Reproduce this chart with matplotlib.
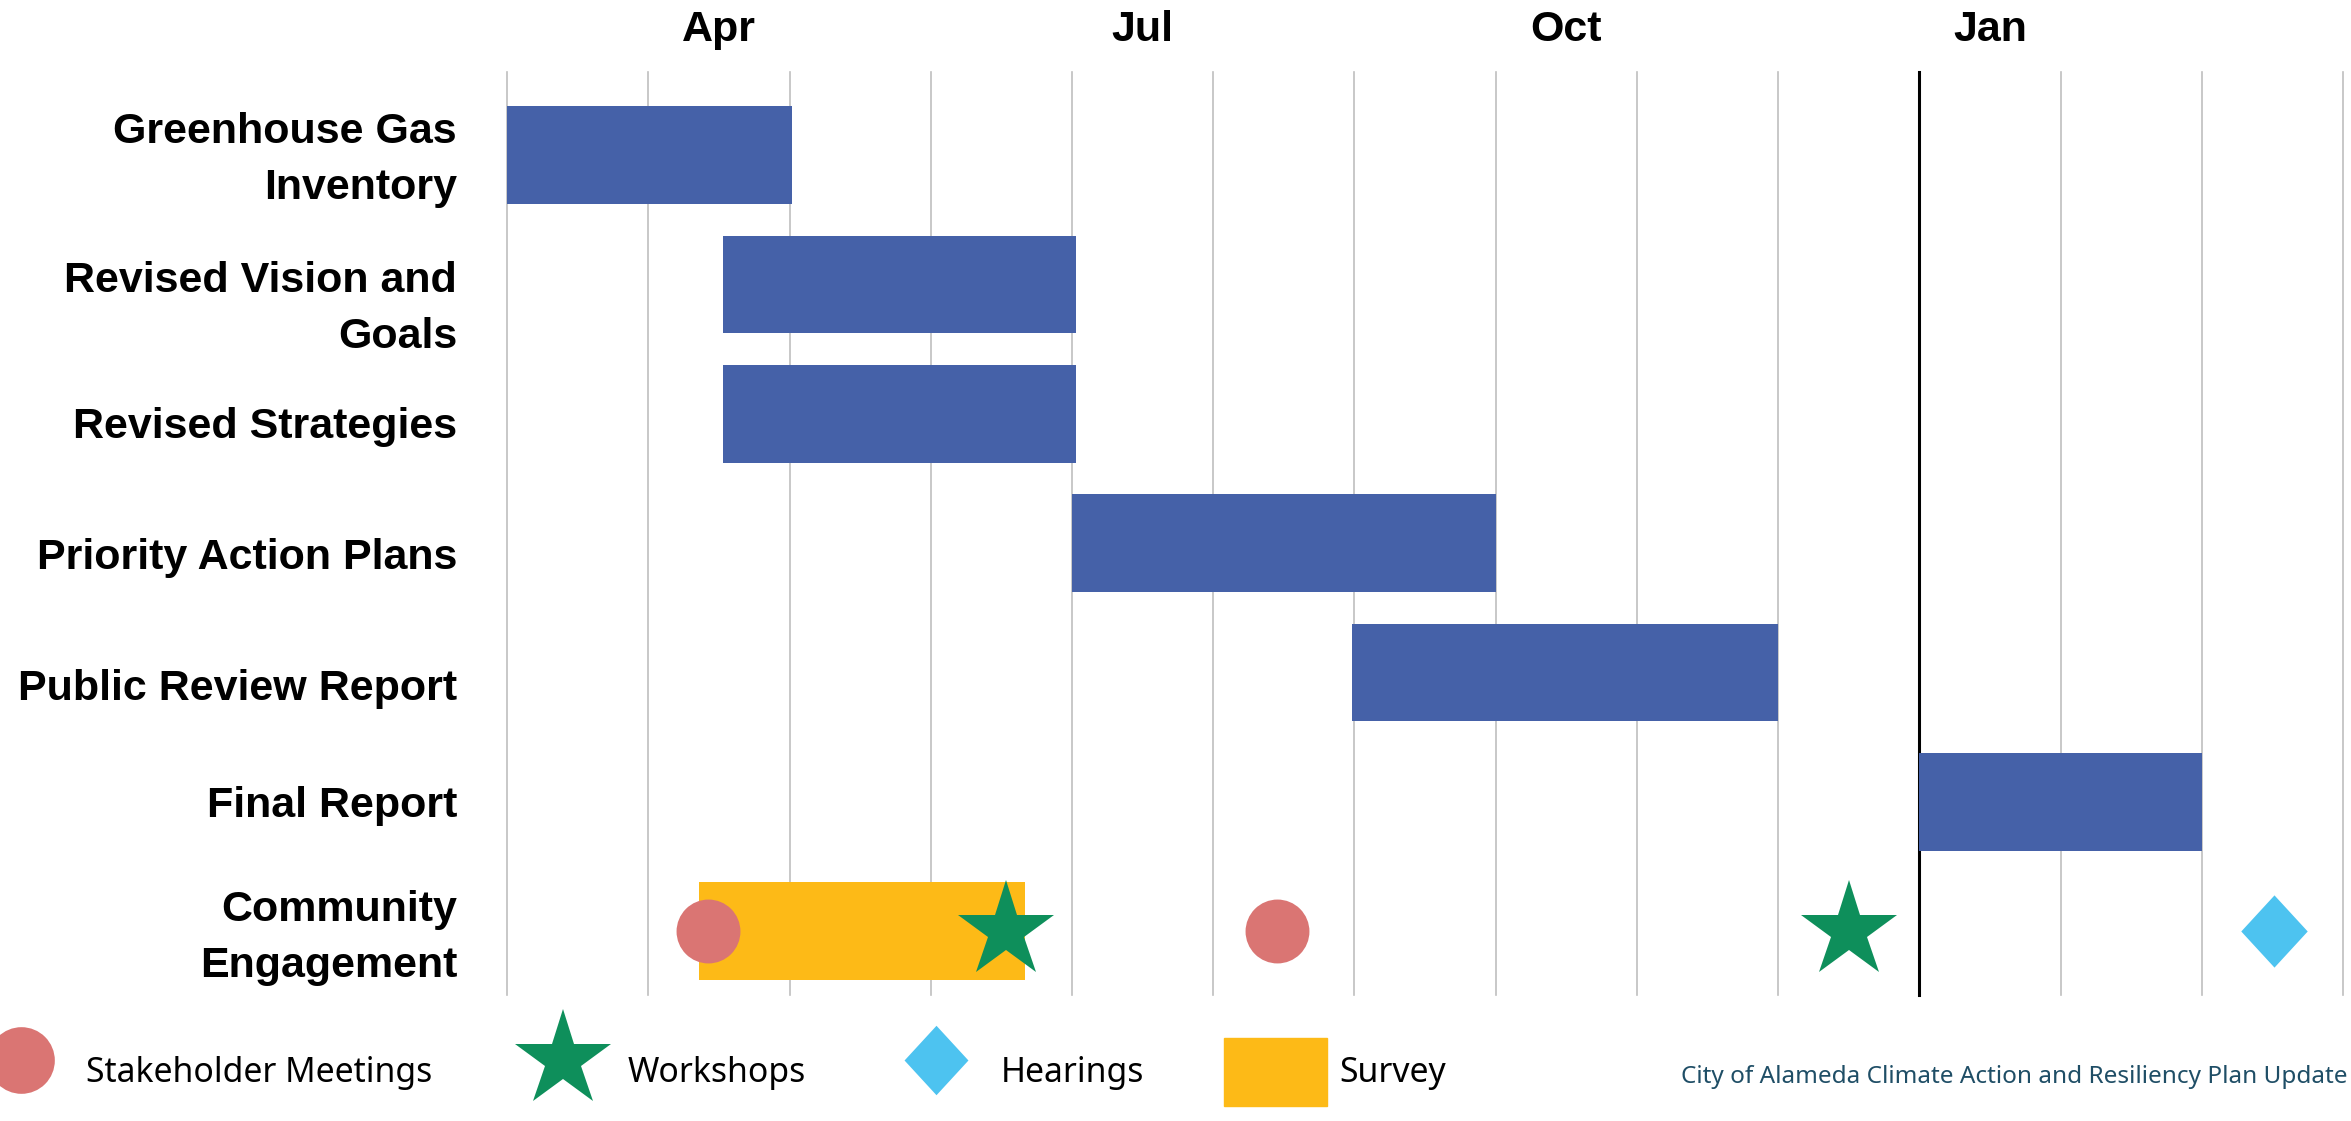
import matplotlib.pyplot as plt
from matplotlib.lines import Line2D
from matplotlib.patches import Patch

# months are counted from 1 Mar (0) to 1 Apr of the following year (13)
TASKS = [
    "Greenhouse Gas\nInventory",
    "Revised Vision and\nGoals",
    "Revised Strategies",
    "Priority Action Plans",
    "Public Review Report",
    "Final Report",
    "Community\nEngagement",
]
# the row labels in the original sit a little off the bar centres
LABEL_ROWS = [-0.06, 1.09, 2.07, 3.08, 4.09, 5.0, 5.955]
TASK_START = [0.0, 1.53, 1.53, 4.0, 5.98, 10.0]
TASK_END = [2.02, 4.03, 4.03, 7.0, 9.0, 12.0]

SURVEY_START = 1.36
SURVEY_END = 3.67
MEETINGS = [1.42, 5.45]
WORKSHOPS = [3.53, 9.50]
HEARINGS = [12.51]

MONTH_TICKS = [1.5, 4.5, 7.5, 10.5]
MONTH_LABELS = ["Apr", "Jul", "Oct", "Jan"]
N_MONTHS = 13
YEAR_BREAK = 10

BLUE = "#4561A8"
YELLOW = "#FDBA17"
RED = "#DA7573"
GREEN = "#0E8F5B"
CYAN = "#4DC3F0"
DIAMOND = [(0, 1), (0.92, 0), (0, -1), (-0.92, 0), (0, 1)]

LABEL_FONT = "Liberation Sans"
LEGEND_FONT = "Noto Sans"

fig = plt.figure(figsize=(23.51, 11.21), dpi=100)
ax = fig.add_axes([0.2157, 0.1128, 0.7809, 0.8230])

for m in range(N_MONTHS + 1):
    if m == YEAR_BREAK:
        ax.axvline(m, color="black", lw=2.2, zorder=1, clip_on=False)
    else:
        ax.axvline(m, color="#BFBFBF", lw=1.2, zorder=0, clip_on=False)

rows = range(len(TASK_START))
widths = [e - s for s, e in zip(TASK_START, TASK_END)]
ax.barh(rows, widths, left=TASK_START, height=0.754, color=BLUE, zorder=2)

eng = len(TASKS) - 1
ax.barh(eng, SURVEY_END - SURVEY_START, left=SURVEY_START, height=0.754,
        color=YELLOW, zorder=2)
ax.plot(MEETINGS, [eng] * len(MEETINGS), "o", ms=46, color=RED, mew=0, zorder=3)
ax.plot(WORKSHOPS, [eng] * len(WORKSHOPS), "*", ms=73, color=GREEN, mew=0, zorder=3)
ax.plot(HEARINGS, [eng] * len(HEARINGS), marker=DIAMOND, ls="none", ms=52,
        color=CYAN, mew=0, zorder=3)

ax.set_xlim(0, N_MONTHS)
ax.set_ylim(6.49, -0.644)
ax.xaxis.tick_top()
ax.set_xticks(MONTH_TICKS, MONTH_LABELS)
ax.set_yticks(LABEL_ROWS, TASKS)
for lab in ax.get_xticklabels() + ax.get_yticklabels():
    lab.set_fontfamily(LABEL_FONT)
    lab.set_fontweight("bold")
    lab.set_fontsize(31)
    lab.set_linespacing(1.52)
ax.tick_params(axis="x", length=0, pad=16)
ax.tick_params(axis="y", length=0, pad=36)
for s in ax.spines.values():
    s.set_visible(False)

handles = [
    Line2D([], [], marker="o", ls="none", ms=48, color=RED, mew=0),
    Line2D([], [], marker="*", ls="none", ms=73, color=GREEN, mew=0),
    Line2D([], [], marker=DIAMOND, ls="none", ms=50, color=CYAN, mew=0),
    Patch(color=YELLOW),
]
fig.legend(handles, ["Stakeholder Meetings", "Workshops", "Hearings", "Survey"],
           loc="center left", bbox_to_anchor=(-0.013, 0.0437), ncol=4,
           frameon=False, borderpad=0, borderaxespad=0,
           prop={"family": LEGEND_FONT, "size": 24.3},
           handlelength=3.06, handleheight=2.74, handletextpad=0.38,
           columnspacing=2.35)

fig.text(0.7152, 0.039, "City of Alameda Climate Action and Resiliency Plan Update",
         family=LEGEND_FONT, fontsize=17.5, color="#1F4E66", va="center")

fig.savefig("out.png", dpi=100)
